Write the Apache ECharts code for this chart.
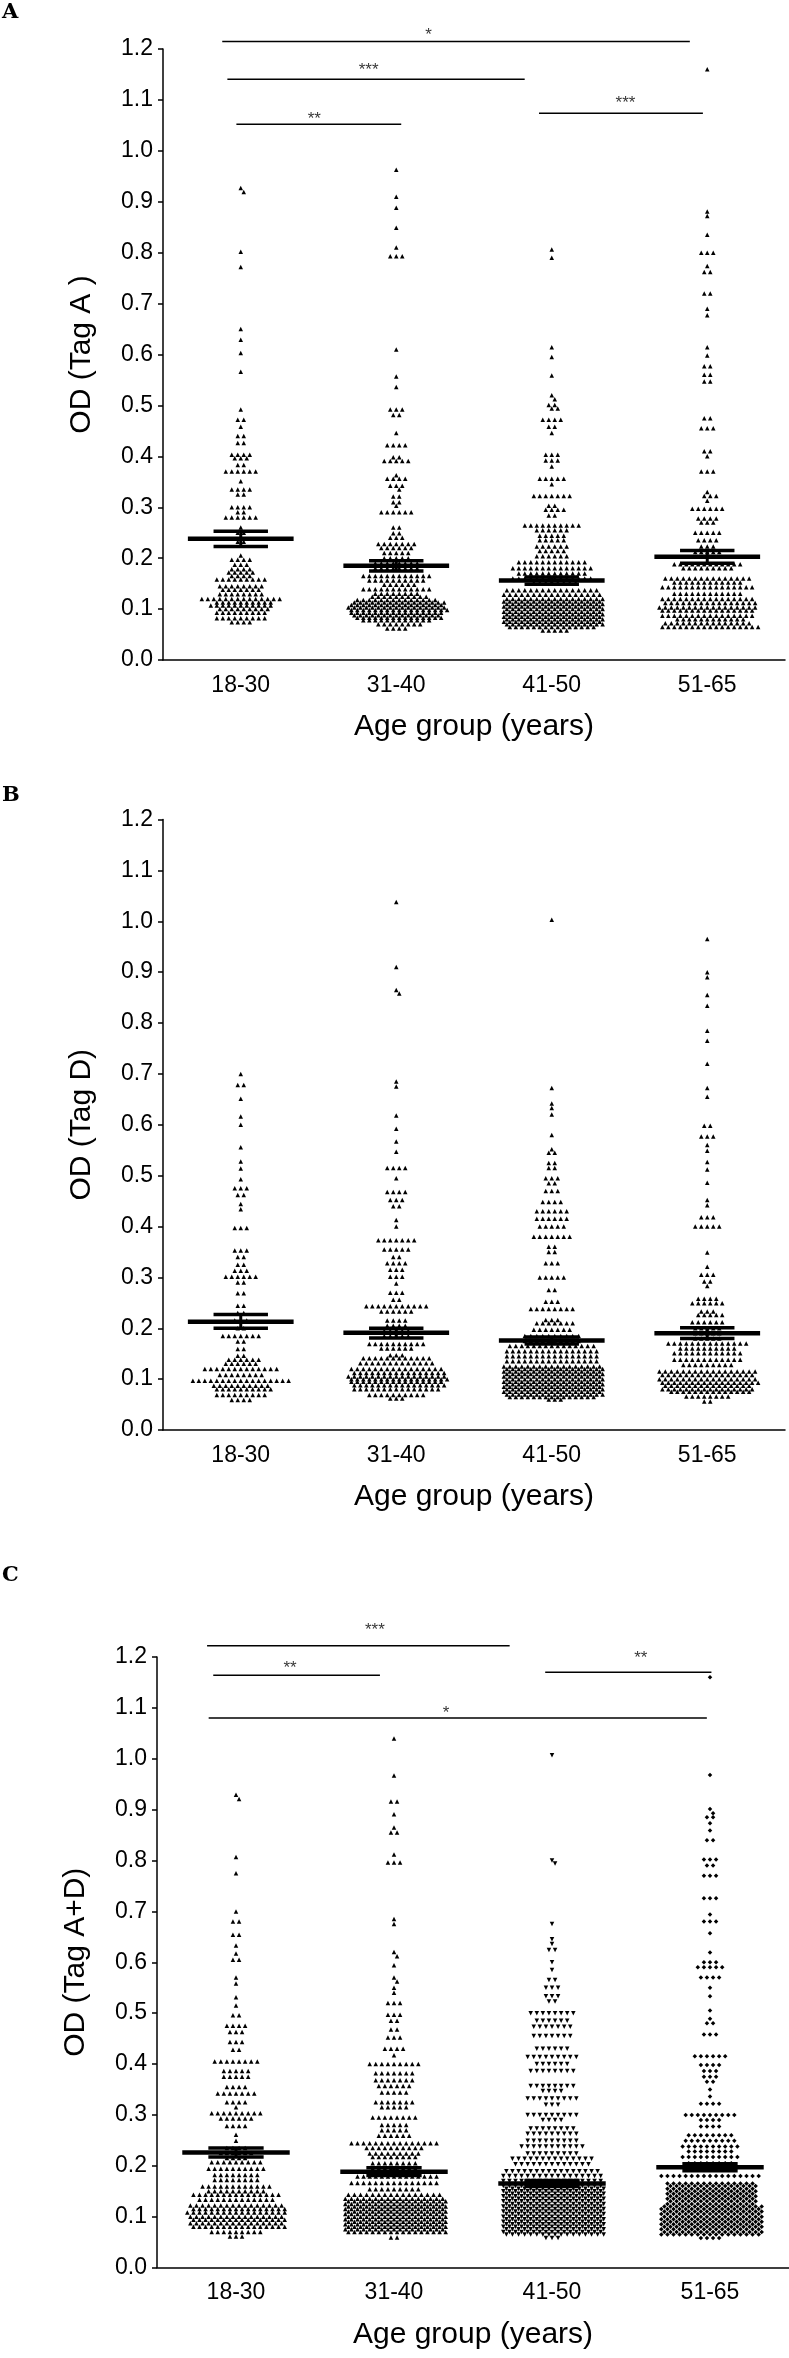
<!DOCTYPE html>
<html>
<head>
<meta charset="utf-8">
<script src="https://cdn.jsdelivr.net/npm/echarts@6/dist/echarts.min.js"></script>
<style>
  html, body { margin: 0; padding: 0; background: #fff; }
  #chart { width: 789px; height: 2358px; }
</style>
</head>
<body>
<div id="chart"></div>
<script>
const groups = ['18-30', '31-40', '41-50', '51-65']

// rows of the dot plots: [OD value, number of dots on that row]
// panel A (Tag A)
const a1830 = [[0.927,1],[0.919,1],[0.802,1],[0.772,1],[0.650,1],[0.629,1],[0.603,1],[0.566,1],[0.492,1],[0.472,2],[0.458,1],[0.440,2],[0.426,2],[0.403,4],[0.396,3],[0.383,2],[0.370,6],[0.351,1],[0.335,4],[0.325,2],[0.300,4],[0.290,2],[0.280,6],[0.260,1],[0.250,2],[0.232,2],[0.205,1],[0.197,4],[0.187,3],[0.178,4],[0.172,5],[0.165,4],[0.158,9],[0.145,8],[0.138,7],[0.129,8],[0.120,14],[0.113,10],[0.107,11],[0.100,9],[0.093,9],[0.082,9],[0.074,4]]
const a3140 = [[0.963,1],[0.910,1],[0.888,1],[0.849,1],[0.810,1],[0.793,3],[0.610,1],[0.557,1],[0.536,1],[0.492,3],[0.481,2],[0.446,1],[0.422,4],[0.398,2],[0.391,5],[0.363,1],[0.356,4],[0.342,3],[0.335,1],[0.321,2],[0.310,2],[0.303,1],[0.290,6],[0.260,2],[0.249,2],[0.240,3],[0.228,7],[0.220,6],[0.210,5],[0.200,5],[0.190,8],[0.180,8],[0.165,12],[0.156,10],[0.148,6],[0.139,12],[0.130,8],[0.124,10],[0.118,14],[0.113,16],[0.108,16],[0.103,17],[0.098,17],[0.093,16],[0.088,15],[0.083,15],[0.078,12],[0.070,8],[0.062,4]]
const a4150 = [[0.806,1],[0.790,1],[0.614,1],[0.595,1],[0.559,1],[0.520,1],[0.512,1],[0.501,2],[0.494,2],[0.472,4],[0.458,2],[0.446,1],[0.403,3],[0.392,3],[0.380,1],[0.356,5],[0.345,1],[0.322,7],[0.303,2],[0.295,4],[0.284,2],[0.264,10],[0.255,6],[0.244,5],[0.235,5],[0.223,6],[0.214,5],[0.204,6],[0.192,12],[0.180,14],[0.170,12],[0.160,14],[0.152,8],[0.137,16],[0.128,17],[0.120,17],[0.115,17],[0.110,17],[0.105,17],[0.100,17],[0.095,17],[0.090,17],[0.085,17],[0.080,17],[0.075,17],[0.070,17],[0.065,15],[0.058,5]]
const a5165 = [[1.160,1],[0.881,1],[0.872,1],[0.835,1],[0.800,3],[0.774,1],[0.762,2],[0.720,2],[0.690,1],[0.677,1],[0.614,1],[0.598,1],[0.577,2],[0.560,2],[0.547,2],[0.475,2],[0.455,3],[0.410,2],[0.400,1],[0.370,3],[0.330,1],[0.322,3],[0.313,1],[0.297,6],[0.278,4],[0.270,3],[0.250,5],[0.235,4],[0.223,3],[0.212,5],[0.203,5],[0.188,12],[0.180,9],[0.160,15],[0.152,12],[0.143,16],[0.130,12],[0.120,16],[0.112,16],[0.103,17],[0.097,16],[0.087,16],[0.080,12],[0.072,15],[0.065,17]]

// panel B (Tag D)
const b1830 = [[0.700,1],[0.678,2],[0.651,1],[0.616,1],[0.600,1],[0.556,1],[0.528,1],[0.514,1],[0.493,1],[0.475,3],[0.462,2],[0.444,1],[0.434,1],[0.397,3],[0.353,3],[0.340,2],[0.325,2],[0.313,3],[0.301,6],[0.290,2],[0.269,2],[0.244,2],[0.230,2],[0.215,3],[0.200,2],[0.185,7],[0.174,2],[0.159,2],[0.146,2],[0.138,6],[0.130,6],[0.120,13],[0.108,8],[0.097,17],[0.087,10],[0.080,10],[0.069,9],[0.059,4]]
const b3140 = [[1.038,1],[0.910,1],[0.865,1],[0.858,1],[0.685,1],[0.675,1],[0.618,1],[0.592,1],[0.567,1],[0.547,1],[0.515,4],[0.495,1],[0.468,4],[0.452,3],[0.440,2],[0.413,1],[0.400,1],[0.373,7],[0.355,5],[0.340,2],[0.328,4],[0.315,3],[0.301,3],[0.288,1],[0.270,3],[0.256,2],[0.243,11],[0.233,6],[0.215,4],[0.205,4],[0.195,5],[0.185,5],[0.169,10],[0.160,6],[0.147,3],[0.141,12],[0.131,13],[0.120,16],[0.112,16],[0.105,17],[0.100,17],[0.095,16],[0.088,16],[0.080,15],[0.069,10],[0.062,3]]
const b4150 = [[1.003,1],[0.672,1],[0.642,1],[0.633,1],[0.620,1],[0.580,1],[0.552,1],[0.545,2],[0.525,2],[0.515,2],[0.495,3],[0.485,2],[0.470,3],[0.448,4],[0.430,6],[0.415,6],[0.400,5],[0.380,7],[0.360,2],[0.350,2],[0.328,3],[0.300,5],[0.275,2],[0.252,3],[0.238,8],[0.216,3],[0.210,7],[0.197,7],[0.185,10],[0.175,10],[0.165,15],[0.155,16],[0.145,16],[0.135,16],[0.125,17],[0.120,17],[0.115,17],[0.110,17],[0.105,17],[0.100,17],[0.095,17],[0.090,17],[0.085,17],[0.080,17],[0.075,17],[0.070,17],[0.065,15],[0.060,3]]
const b5165 = [[0.965,1],[0.900,1],[0.890,1],[0.855,1],[0.834,1],[0.785,1],[0.765,1],[0.720,1],[0.672,1],[0.655,1],[0.598,2],[0.577,3],[0.560,1],[0.549,1],[0.527,1],[0.512,1],[0.486,1],[0.452,1],[0.442,1],[0.418,3],[0.400,5],[0.349,1],[0.321,1],[0.305,3],[0.292,2],[0.283,1],[0.258,4],[0.249,6],[0.233,3],[0.226,5],[0.212,6],[0.200,5],[0.190,5],[0.180,5],[0.170,14],[0.160,10],[0.151,12],[0.138,12],[0.128,9],[0.115,17],[0.108,16],[0.100,17],[0.093,17],[0.087,15],[0.080,16],[0.075,14],[0.066,8],[0.056,2]]

// panel C (Tag A+D)
const c1830 = [[0.929,1],[0.921,1],[0.807,1],[0.775,1],[0.700,1],[0.680,2],[0.654,2],[0.633,1],[0.617,1],[0.605,2],[0.570,1],[0.558,1],[0.531,1],[0.515,1],[0.496,2],[0.475,4],[0.463,3],[0.443,3],[0.428,2],[0.405,8],[0.386,5],[0.375,5],[0.355,4],[0.342,7],[0.325,4],[0.315,1],[0.303,9],[0.293,6],[0.278,4],[0.261,1],[0.249,1],[0.235,4],[0.225,6],[0.215,4],[0.207,9],[0.194,10],[0.182,8],[0.172,8],[0.159,12],[0.150,10],[0.143,15],[0.133,13],[0.122,16],[0.115,16],[0.108,17],[0.100,16],[0.094,16],[0.087,16],[0.080,16],[0.070,9],[0.061,3]]
const c3140 = [[1.040,1],[0.967,1],[0.916,2],[0.891,1],[0.865,1],[0.855,2],[0.812,1],[0.796,3],[0.685,1],[0.675,1],[0.620,1],[0.612,1],[0.594,1],[0.570,1],[0.562,1],[0.550,1],[0.540,1],[0.520,3],[0.497,3],[0.485,2],[0.468,2],[0.452,3],[0.430,4],[0.417,1],[0.400,9],[0.382,7],[0.368,7],[0.357,6],[0.344,5],[0.325,7],[0.315,5],[0.295,8],[0.280,5],[0.270,5],[0.259,6],[0.244,15],[0.235,10],[0.224,9],[0.217,8],[0.205,8],[0.195,8],[0.185,8],[0.179,14],[0.166,15],[0.154,9],[0.143,16],[0.135,17],[0.130,17],[0.125,17],[0.120,17],[0.115,17],[0.110,17],[0.105,17],[0.100,17],[0.095,17],[0.090,17],[0.085,17],[0.080,17],[0.075,17],[0.070,17],[0.059,2]]
const c4150 = [[1.007,1],[0.800,1],[0.794,1],[0.675,1],[0.645,1],[0.636,1],[0.624,2],[0.600,1],[0.585,1],[0.565,2],[0.550,3],[0.533,3],[0.523,2],[0.500,8],[0.485,6],[0.473,7],[0.455,7],[0.430,6],[0.414,9],[0.400,6],[0.386,8],[0.357,8],[0.347,4],[0.332,9],[0.320,3],[0.300,9],[0.290,4],[0.273,8],[0.263,9],[0.249,9],[0.238,11],[0.224,9],[0.214,14],[0.203,13],[0.189,16],[0.180,17],[0.170,17],[0.160,17],[0.155,17],[0.150,17],[0.145,17],[0.140,17],[0.135,17],[0.130,17],[0.125,17],[0.120,17],[0.115,17],[0.110,17],[0.105,17],[0.100,17],[0.095,17],[0.090,17],[0.085,17],[0.080,17],[0.075,17],[0.070,17],[0.065,17],[0.058,3]]
const c5165 = [[1.160,1],[0.968,1],[0.901,1],[0.893,1],[0.885,2],[0.873,1],[0.859,1],[0.840,2],[0.802,3],[0.790,2],[0.770,3],[0.726,3],[0.694,1],[0.680,3],[0.657,1],[0.619,1],[0.600,3],[0.590,5],[0.570,4],[0.550,1],[0.533,1],[0.505,1],[0.489,1],[0.480,2],[0.458,3],[0.415,6],[0.398,4],[0.386,3],[0.375,3],[0.365,2],[0.350,1],[0.336,1],[0.322,4],[0.300,9],[0.290,4],[0.277,4],[0.260,8],[0.249,9],[0.238,10],[0.228,8],[0.217,10],[0.205,8],[0.195,8],[0.180,17],[0.165,15],[0.160,15],[0.155,15],[0.150,15],[0.145,15],[0.140,15],[0.135,15],[0.130,15],[0.125,15],[0.120,17],[0.115,17],[0.110,17],[0.105,17],[0.100,17],[0.095,17],[0.090,17],[0.085,17],[0.080,17],[0.075,17],[0.070,17],[0.065,17],[0.058,4]]

// mean, lower SEM, upper SEM per group
const statsA = [[0.238,0.223,0.253],[0.185,0.175,0.195],[0.156,0.149,0.163],[0.203,0.190,0.215]]
const statsB = [[0.213,0.200,0.227],[0.191,0.181,0.200],[0.176,0.169,0.183],[0.190,0.180,0.201]]
const statsC = [[0.226,0.217,0.235],[0.188,0.181,0.196],[0.165,0.159,0.171],[0.197,0.190,0.204]]

// significance bars: [from, to, bar level, star x, star level, stars]
const sigA = [[0.381,3.388,1.2147,1.707,1.2274,'*'],[0.414,2.326,1.1404,1.322,1.158,'***'],[0.472,1.532,1.0524,0.973,1.0612,'**'],[2.418,3.472,1.074,2.974,1.0925,'***']]
const sigB = []
const sigC = [[0.317,2.232,1.222,1.379,1.252,'***'],[0.356,1.411,1.164,0.842,1.177,'**'],[2.457,3.509,1.17,3.062,1.197,'**'],[0.327,3.48,1.08,1.83,1.089,'*']]

const FONT = "'Liberation Sans', Arial, sans-serif"

const panels = [
  { letter: 'A', letterTop: 2, yName: 'OD (Tag A )', top: 49, height: 611, left: 163, right: 4,
    rows: [a1830, a3140, a4150, a5165], stats: statsA, sig: sigA,
    symbols: [['triangle', 0], ['triangle', 0], ['triangle', 0], ['triangle', 0]] },
  { letter: 'B', letterTop: 785, yName: 'OD (Tag D)', top: 819.5, height: 610.5, left: 163, right: 4,
    rows: [b1830, b3140, b4150, b5165], stats: statsB, sig: sigB,
    symbols: [['triangle', 0], ['triangle', 0], ['triangle', 0], ['triangle', 0]] },
  { letter: 'C', letterTop: 1565, yName: 'OD (Tag A+D)', top: 1657, height: 610.5, left: 157, right: 0,
    rows: [c1830, c3140, c4150, c5165], stats: statsC, sig: sigC,
    symbols: [['triangle', 0], ['triangle', 0], ['triangle', 180], ['diamond', 0]] }
]

const STEP = 0.0385 // horizontal gap between dots of a row, in category units

// lay the rows out side by side; rows that sit very close to the row above
// are pushed half a step sideways so the dots interleave
function swarm(rows, center) {
  let pts = []
  let prevVal = null, prevN = 0, prevShift = 0
  rows.forEach(function (r) {
    let n = r[1]
    let shift = 0
    if (prevVal !== null && prevVal - r[0] < 0.0085 && (n % 2) === (prevN % 2)) {
      shift = prevShift === 0 ? STEP / 2 : 0
    }
    for (let i = 0; i < n; i++) {
      pts.push([center + (i - (n - 1) / 2) * STEP + shift, r[0]])
    }
    prevVal = r[0]; prevN = n; prevShift = shift
  })
  return pts
}

function meanRender(params, api) {
  let c = api.value(0), m = api.value(1), lo = api.value(2), hi = api.value(3)
  function seg(x1, y1, x2, y2, w) {
    let a = api.coord([x1, y1]), b = api.coord([x2, y2])
    return { type: 'line', shape: { x1: a[0], y1: a[1], x2: b[0], y2: b[1] }, style: { stroke: '#000', lineWidth: w } }
  }
  return {
    type: 'group',
    children: [
      seg(c - 0.34, m, c + 0.34, m, 4.5),
      seg(c - 0.175, lo, c + 0.175, lo, 3.5),
      seg(c - 0.175, hi, c + 0.175, hi, 3.5),
      seg(c, lo, c, hi, 3)
    ]
  }
}

let grid = [], xAxis = [], yAxis = [], series = [], graphic = []

panels.forEach(function (p, i) {
  grid.push({ left: p.left, right: p.right, top: p.top, height: p.height })
  // visible category axis
  xAxis.push({
    type: 'category', gridIndex: i, data: groups, boundaryGap: true,
    axisLine: { lineStyle: { color: '#000', width: 1.5 } },
    axisTick: { alignWithLabel: true, length: 6, lineStyle: { color: '#000', width: 1.5 } },
    axisLabel: { color: '#000', fontSize: 23, fontFamily: FONT, margin: 14 },
    name: 'Age group (years)', nameLocation: 'middle', nameGap: 52,
    nameTextStyle: { color: '#000', fontSize: 30, fontFamily: FONT }
  })
  // hidden value axis used to place the dots
  xAxis.push({ type: 'value', gridIndex: i, min: 0, max: 4, show: false })
  yAxis.push({
    type: 'value', gridIndex: i, min: 0, max: 1.2, interval: 0.1,
    axisLine: { show: true, lineStyle: { color: '#000', width: 1.5 } },
    axisTick: { show: true, length: 5, lineStyle: { color: '#000', width: 1.5 } },
    splitLine: { show: false },
    axisLabel: { color: '#000', fontSize: 23, fontFamily: FONT, margin: 10,
      formatter: function (v) { return v.toFixed(1) } },
    name: p.yName, nameLocation: 'middle', nameGap: 66,
    nameTextStyle: { color: '#000', fontSize: 30, fontFamily: FONT }
  })

  p.rows.forEach(function (rows, g) {
    series.push({
      type: 'scatter', xAxisIndex: 2 * i + 1, yAxisIndex: i,
      data: swarm(rows, g + 0.5),
      symbol: p.symbols[g][0], symbolRotate: p.symbols[g][1], symbolSize: 4.5,
      itemStyle: { color: '#000', opacity: 1 },
      silent: true, clip: false, z: 2
    })
  })

  series.push({
    type: 'custom', xAxisIndex: 2 * i + 1, yAxisIndex: i,
    data: p.stats.map(function (s, g) { return [g + 0.5, s[0], s[1], s[2]] }),
    renderItem: meanRender, silent: true, z: 5
  })

  p.sig.forEach(function (s) {
    series.push({
      type: 'line', xAxisIndex: 2 * i + 1, yAxisIndex: i,
      data: [[s[0], s[2]], [s[1], s[2]]],
      symbol: 'none', lineStyle: { color: '#000', width: 1.5 },
      clip: false, silent: true
    })
    series.push({
      type: 'scatter', xAxisIndex: 2 * i + 1, yAxisIndex: i,
      data: [[s[3], s[4]]], symbolSize: 0, clip: false, silent: true,
      label: { show: true, position: 'inside', formatter: s[5], color: '#000', fontSize: 17, fontFamily: FONT }
    })
  })

  graphic.push({
    type: 'text', left: 2, top: p.letterTop,
    style: { text: p.letter, fill: '#000', font: "bold 21px 'DejaVu Serif', serif" }
  })
})

let myChart = echarts.init(document.getElementById('chart'), null, { renderer: 'canvas' })
myChart.setOption({
  animation: false,
  backgroundColor: '#fff',
  textStyle: { fontFamily: FONT },
  grid: grid,
  xAxis: xAxis,
  yAxis: yAxis,
  series: series,
  graphic: graphic
})
</script>
</body>
</html>
